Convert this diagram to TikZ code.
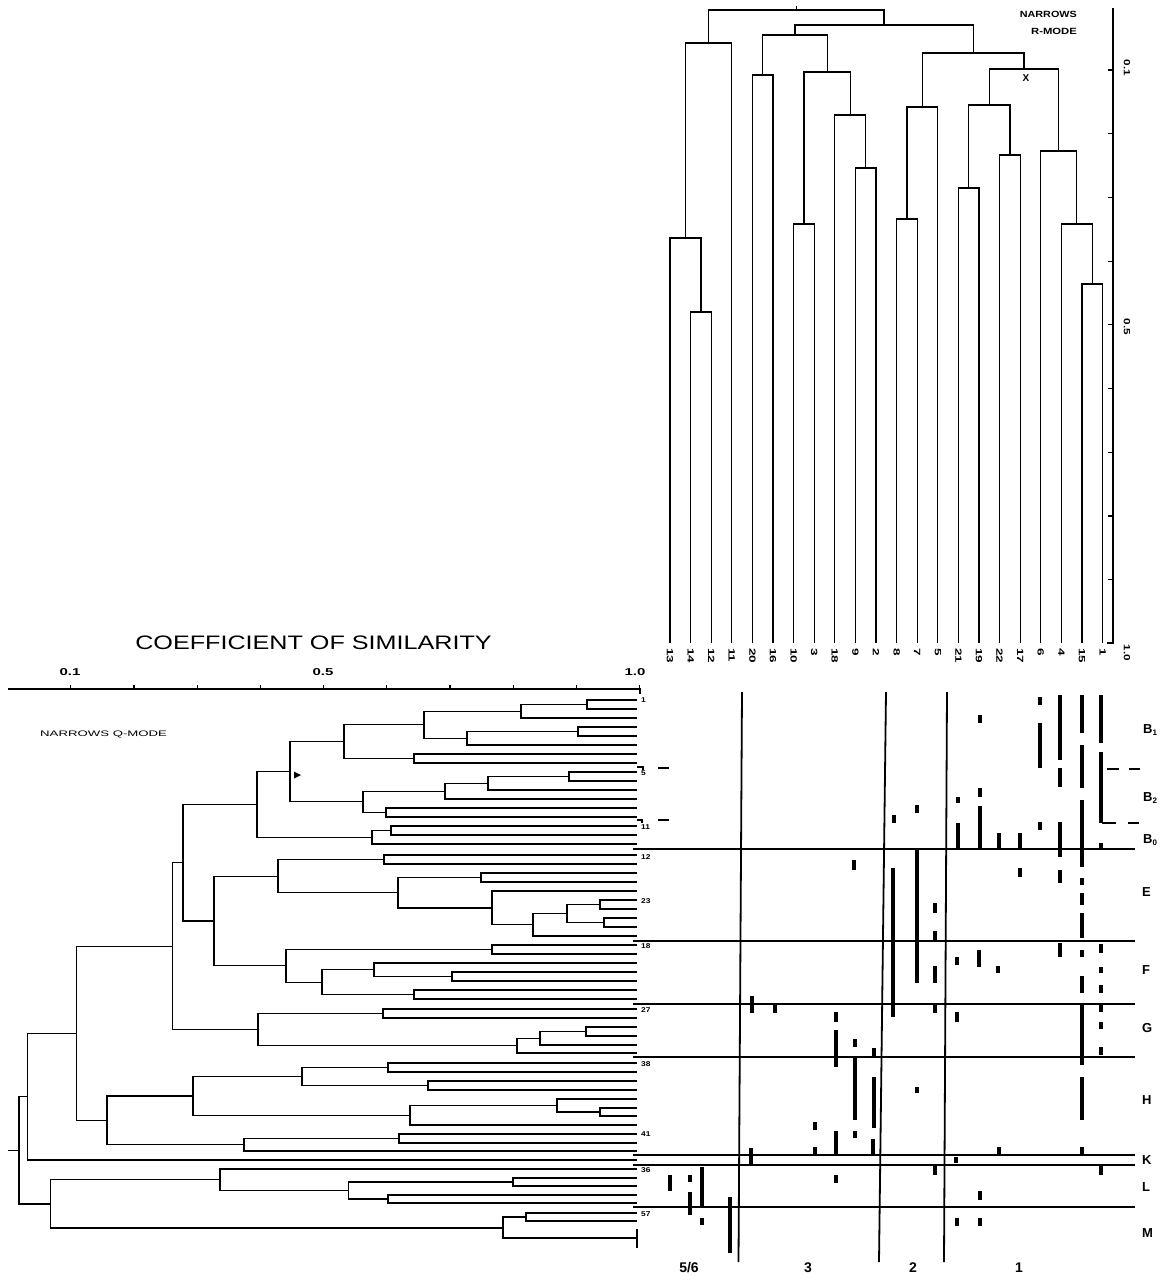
\documentclass[tikz,border=0pt]{standalone}
\usepackage{fontspec}
\setmainfont{Liberation Sans}
\usepackage{graphicx}
\newcommand\stretchtxt[2]{\scalebox{#1}[1]{#2}}
\begin{document}
\begin{tikzpicture}[x=1pt,y=-1pt,
  tree/.style={line width=1.2pt},
  axisline/.style={line width=1.2pt},
  sep/.style={line width=1.8pt},
  hline/.style={line width=1.5pt},
  databar/.style={line width=4.5pt},
  toplab/.style={rotate=-90,anchor=west,inner sep=0pt,font=\fontsize{9}{10}\selectfont\bfseries},
  rowlab/.style={anchor=west,inner sep=0pt,font=\fontsize{7}{8}\selectfont\bfseries},
  grplab/.style={anchor=west,inner sep=0pt,font=\fontsize{13}{15}\selectfont\bfseries},
  collab/.style={inner sep=0pt,font=\fontsize{14}{16}\selectfont\bfseries},
  qlab/.style={inner sep=0pt,font=\fontsize{10}{12}\selectfont\bfseries},
  note/.style={inner sep=0pt,font=\fontsize{9}{10}\selectfont}]
\useasboundingbox (0,0) rectangle (1174,1280);
\fill[white] (0,0) rectangle (1174,1280);

% ================= R-mode dendrogram (top) =================
\foreach \i in {0,...,21} { \coordinate (T\i) at ({670+20.6*\i},643); }
\foreach \n/\x/\y in {Ra/700.9/312, Rb/685.45/238, Rc/708.6/43, Rd/762.7/75,
  Re/803.9/224, Rf/865.7/168, Rg/850.25/115, Rh/827.1/72, Ri/794.9/35,
  Rj/906.9/219, Rk/922.35/107, Rl/968.7/188, Rm/1009.9/155, Rn/989.3/105,
  Ro/1092.3/284, Rp/1076.85/224, Rq/1058.8/151, Rr/1024.05/69, Rs/973.2/53,
  Rt/884/25, Rroot/796.3/10}
  { \coordinate (\n) at (\x,\y); }
\foreach \p/\a/\b in {Ra/T1/T2, Rb/T0/Ra, Rc/Rb/T3, Rd/T4/T5, Re/T6/T7,
  Rf/T9/T10, Rg/T8/Rf, Rh/Re/Rg, Ri/Rd/Rh, Rj/T11/T12, Rk/Rj/T13,
  Rl/T14/T15, Rm/T16/T17, Rn/Rl/Rm, Ro/T20/T21, Rp/T19/Ro, Rq/T18/Rp,
  Rr/Rn/Rq, Rs/Rk/Rr, Rt/Ri/Rs, Rroot/Rc/Rt}
  { \draw[tree] (\a) |- (\p) -| (\b); }
\draw[tree] (Rroot) -- ++(0,-4);
\node[inner sep=0pt,font=\fontsize{10}{11}\selectfont\bfseries] (xmark) at (1026,78) {X};

\foreach \lab [count=\i from 0] in {13,14,12,11,20,16,10,3,18,9,2,8,7,5,21,19,22,17,6,4,15,1}
  { \node[toplab] (tl\i) at ({670+20.6*\i},648) {\stretchtxt{1.5}{\lab}}; }

% right similarity axis
\coordinate (RaxTop) at (1113,8);
\coordinate (RaxBot) at (1113,643);
\draw[axisline] (RaxTop) -- (RaxBot) -- ++(-6,0);
\foreach \k in {0,...,8} { \draw[axisline] (1113,{70+63.7*\k}) -- ++(-5,0); }
\node[toplab,anchor=center] (ra1) at (1127,68) {\stretchtxt{1.3}{0.1}};
\node[toplab,anchor=center] (ra5) at (1127,327) {\stretchtxt{1.3}{0.5}};
\node[toplab,anchor=center] (ra10) at (1127,653) {\stretchtxt{1.3}{1.0}};

\node[note,anchor=east,font=\fontsize{9}{10}\selectfont\bfseries] (nar1) at (1077,14) {\stretchtxt{1.2}{NARROWS}};
\node[note,anchor=east,font=\fontsize{9}{10}\selectfont\bfseries] (nar2) at (1077,31) {\stretchtxt{1.25}{R-MODE}};

% ================= Q-mode dendrogram (left) =================
\node[inner sep=0pt,font=\fontsize{19.5}{22}\selectfont] (title) at (313.5,643)
  {\stretchtxt{1.29}{COEFFICIENT OF SIMILARITY}};
\coordinate (QaxL) at (8,689);
\coordinate (QaxR) at (640,689);
\draw[axisline] (QaxL) -- (QaxR) -- ++(0,5);
\foreach \k in {0,...,9} { \draw[axisline] ({70.7+63.23*\k},689) -- ++(0,-4); }
\node[qlab] (qa1) at (70,672) {\stretchtxt{1.5}{0.1}};
\node[qlab] (qa5) at (323,672) {\stretchtxt{1.5}{0.5}};
\node[qlab] (qa10) at (635,672) {\stretchtxt{1.5}{1.0}};
\node[note,anchor=west,font=\fontsize{8}{9}\selectfont] (qmode) at (40,734)
  {\stretchtxt{1.65}{NARROWS Q-MODE}};

% leaves
\foreach \n/\y in {r1/700, r2/709, r3/718, r4/727, r5/736, r6/745, r7/754, r8/763,
  r9/772, r10/781, r11/790, r12/799, r13/808, r14/817, r15/826, r16/835, r17/844,
  e1/855, e2/864, e3/873, e4/882, e5/891, e6/900, e7/909, e8/918, e9/927, e10/936,
  f1/945, f2/954, f3/963, f4/972, f5/981, f6/990, f7/999,
  g1/1009, g2/1018, g3/1027, g4/1036, g5/1045, g6/1053,
  h1/1063, h2/1072, h3/1081, h4/1090, h5/1099, h6/1108, h7/1116, h8/1125,
  h9/1134, h10/1143, h11/1151, K/1160,
  l1/1169, l2/1178, l3/1186, l4/1195, l5/1203, m1/1213, m2/1221, m3/1238}
  { \coordinate (Q\n) at (637,\y); }
% internal nodes
\foreach \n/\x/\y in {n1/587/704.5, n2/521/711.25, n3/578/731.5, n4/467/738.25,
  n5/424/724.75, n6/414/758.5, n7/344/741.6, n8/569/776.5, n9/488/783.25,
  n10/445/791.1, n11/386/812.5, n12/363/801.8, n13/290/771.7, n14/391/830.5,
  n15/372/837.25, nB/257/804.5,
  ea/384/859.5, eb/481/877.5, ec/600/904.5, ed/604/922.5, ee/567/913.5,
  ef/533/924.75, eg/492/907.9, eh/398/892.7, nE/278/876.1,
  fa/492/949.5, fb/452/976.5, fc/374/969.75, fd/414/994.5, fe/322/982.1,
  nF/286/965.8, nEF/214/920.95, nBEF/183/862.7,
  ga/383/1013.5, gb/586/1031.5, gc/540/1038.25, gd/517/1045.6, nG/258/1029.6,
  nBG/172.6/946.1,
  ha/388/1067.5, hb/428/1085.5, hc/302/1076.5, hd/600/1112, he/557/1105.5,
  hf/410/1115.25, hg/193/1095.9, hh/399/1138.5, hi/244/1144.75, nH/107/1120.3,
  nBH/76.6/1033.2, nK/27.4/1096.6,
  la/513/1182, lb/388/1199, lc/348.6/1190.5, nL/220/1179.75,
  ma/526/1217, nM/503/1228, nLM/50.5/1203.9, root/19/1150.25}
  { \coordinate (Q\n) at (\x,\y); }
\foreach \p/\a/\b in {n1/r1/r2, n2/n1/r3, n3/r4/r5, n4/n3/r6, n5/n2/n4,
  n6/r7/r8, n7/n5/n6, n8/r9/r10, n9/n8/r11, n10/n9/r12, n11/r13/r14,
  n12/n10/n11, n13/n7/n12, n14/r15/r16, n15/n14/r17, nB/n13/n15,
  ea/e1/e2, eb/e3/e4, ec/e6/e7, ed/e8/e9, ee/ec/ed, ef/ee/e10, eg/e5/ef,
  eh/eb/eg, nE/ea/eh,
  fa/f1/f2, fb/f4/f5, fc/f3/fb, fd/f6/f7, fe/fc/fd, nF/fa/fe,
  nEF/nE/nF, nBEF/nB/nEF,
  ga/g1/g2, gb/g3/g4, gc/gb/g5, gd/gc/g6, nG/ga/gd, nBG/nBEF/nG,
  ha/h1/h2, hb/h3/h4, hc/ha/hb, hd/h6/h7, he/h5/hd, hf/he/h8, hg/hc/hf,
  hh/h9/h10, hi/hh/h11, nH/hg/hi, nBH/nBG/nH, nK/nBH/K,
  la/l2/l3, lb/l4/l5, lc/la/lb, nL/l1/lc,
  ma/m1/m2, nM/ma/m3, nLM/nL/nM, root/nK/nLM}
  { \draw[tree] (Q\a) -| (Q\p) |- (Q\b); }
\draw[tree] (Qroot) -- ++(-11,0);
\draw[tree] (637,1229) -- (637,1248);
\draw[tree] (637,767) -- (643,767) -- (643,770);
\draw[tree] (637,820) -- (642,820) -- (642,823);
\fill (294,771.5) -- (301,775) -- (294,778.5) -- cycle;

% row labels
\foreach \lab/\y in {1/700, 5/773, 11/827, 12/857, 23/901, 18/946, 27/1010,
  38/1064, 41/1134, 36/1170, 57/1214}
  { \node[rowlab] (rl\lab) at (641,\y) {\stretchtxt{1.2}{\lab}}; }
\draw[hline] (658,768) -- (669,768);
\draw[hline] (658,820) -- (669,820);

% ================= matrix =================
\foreach \y in {849, 941, 1004, 1057, 1155, 1165, 1207}
  { \draw[hline] (633,\y) -- (1135,\y); }
\draw[sep] (742,692) -- (738.5,1262);
\draw[sep] (886,692) -- (879,1262);
\draw[sep] (947,692) -- (944,1262);
\draw[hline] (1107,769) -- (1119,769) (1129,769) -- (1140,769);
\draw[hline] (1102,823) -- (1116,823) (1128,823) -- (1139,823);

\foreach \x/\ya/\yb in {1040/697/705, 1040/723/768, 1040/822/830,
 1060/695/760, 1060/768/787, 1060/822/857, 1060/870/883, 1060/943/957,
 1082/695/733, 1082/745/788, 1082/800/867, 1082/878/885, 1082/893/905,
 1082/913/938, 1082/950/957, 1082/976/993, 1082/1005/1065, 1082/1077/1120,
 1082/1147/1155,
 1101/695/743, 1101/752/823, 1101/843/848, 1101/944/953, 1101/967/973,
 1101/985/993, 1101/1005/1012, 1101/1022/1029, 1101/1047/1055, 1101/1165/1175,
 980/715/723, 980/788/797, 980/806/848, 979/950/967, 980/1191/1200, 980/1218/1226,
 958/797/803, 958/823/848, 957/957/965, 957/1012/1022, 956/1157/1163, 957/1218/1226,
 999/833/848, 998/966/973, 999/1147/1155,
 1020/833/848, 1020/868/877,
 917/805/813, 917/850/983, 917/1087/1093,
 894/815/823, 893/868/1017,
 935/903/913, 935/931/942, 935/966/983, 935/1005/1013, 935/1165/1175,
 854/860/870, 855/1039/1047, 855/1057/1120, 855/1131/1138,
 836/1012/1022, 836/1030/1067, 836/1131/1155, 836/1175/1183,
 874/1048/1057, 874/1077/1128, 873/1139/1155,
 815/1122/1130, 815/1147/1155,
 752/996/1013, 751/1148/1165, 775/1005/1013,
 670/1175/1191, 690/1175/1182, 690/1192/1215, 702/1167/1207, 702/1218/1225,
 730/1197/1253}
  { \draw[databar] (\x,\ya) -- (\x,\yb); }

% group labels
\newcommand\grpsub[2]{#1\raisebox{-0.35ex}{\fontsize{8}{9}\selectfont #2}}
\node[grplab] (gB1) at (1143,730) {\grpsub{B}{1}};
\node[grplab] (gB2) at (1143,798) {\grpsub{B}{2}};
\node[grplab] (gB0) at (1143,840) {\grpsub{B}{0}};
\node[grplab] (gE) at (1142,892) {E};
\node[grplab] (gF) at (1142,970) {F};
\node[grplab] (gG) at (1142,1028) {G};
\node[grplab] (gH) at (1142,1100) {H};
\node[grplab] (gK) at (1142,1160) {K};
\node[grplab] (gL) at (1142,1187) {L};
\node[grplab] (gM) at (1142,1233) {M};

\node[collab] (c56) at (689,1268) {5/6};
\node[collab] (c3) at (808,1268) {3};
\node[collab] (c2) at (913,1268) {2};
\node[collab] (c1) at (1019,1268) {1};
\end{tikzpicture}
\end{document}
